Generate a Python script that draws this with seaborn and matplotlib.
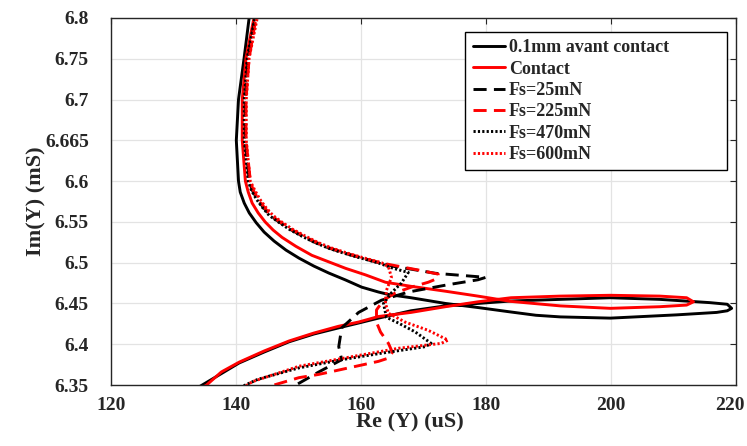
import numpy as np
import pandas as pd
import matplotlib
matplotlib.use("Agg")
import matplotlib.pyplot as plt
import matplotlib.transforms as mtransforms
import seaborn as sns

# ---------------- data ----------------
labels = ["0.1mm avant contact", "Contact", "Fs=25mN", "Fs=225mN", "Fs=470mN", "Fs=600mN"]

re_avant = [142.4, 142.1, 141.3, 140.4, 140.05, 140.4, 140.68, 141.32, 142.12, 143.23,
            144.50, 146.09, 148.0, 150.07, 152.46, 154.84, 157.55, 160.10, 162.8, 164.4,
            168.0, 173.5, 178.7, 184.0, 188.0, 191.9, 199.9, 210.5, 216.9, 218.6, 219.3,
            218.6, 215.8, 207.8, 199.9, 191.9, 184.0, 178.7, 173.5, 168.0, 162.8,
            159.62, 156.4, 152.46, 148.5, 144.50, 140.5, 137.82, 134.6, 132.4]
im_avant = [6.82, 6.80, 6.751, 6.700, 6.650, 6.600, 6.5865, 6.573, 6.561, 6.549,
            6.5375, 6.5265, 6.5154, 6.5056, 6.4958, 6.4873, 6.4787, 6.470, 6.464, 6.461,
            6.457, 6.450, 6.445, 6.4395, 6.4355, 6.4335, 6.432, 6.436, 6.439, 6.441, 6.444,
            6.449, 6.451, 6.455, 6.457, 6.455, 6.453, 6.450, 6.447, 6.441, 6.432,
            6.426, 6.420, 6.4125, 6.403, 6.3904, 6.377, 6.3647, 6.350, 6.340]

re_contact = [143.2, 142.9, 141.6, 141.0, 141.0, 141.5, 141.96, 142.59, 143.55, 144.66,
              145.94, 147.37, 149.59, 152.14, 154.84, 157.55, 160.73, 163.91, 168.0, 173.5,
              178.7, 184.0, 191.9, 199.9, 207.8, 212.1, 213.2, 212.1, 207.8, 199.9,
              191.9, 184.0, 178.7, 173.5, 168.0, 162.8, 159.62, 156.4, 152.46, 148.5,
              144.5, 140.5, 137.66, 135.3, 133.0]
im_contact = [6.82, 6.801, 6.751, 6.700, 6.650, 6.600, 6.5865, 6.573, 6.561, 6.550,
              6.540, 6.531, 6.520, 6.509, 6.501, 6.493, 6.485, 6.476, 6.471, 6.465,
              6.459, 6.4525, 6.447, 6.444, 6.446, 6.448, 6.452, 6.457, 6.459, 6.460,
              6.459, 6.457, 6.452, 6.446, 6.439, 6.434, 6.4272, 6.422, 6.4137, 6.404,
              6.3917, 6.378, 6.366, 6.350, 6.340]

re_25 = [143.3, 143.07, 141.96, 141.48, 141.48, 142.12, 142.59, 143.39, 144.34, 145.46,
         146.89, 148.64, 150.55, 152.62, 154.84, 157.23, 159.94, 162.80, 165.51, 168.05,
         171.87, 179.98, 178.71, 173.94, 167.57, 163.28, 159.62, 156.91, 156.44, 156.91,
         153.25, 149.59, 148.0]
im_25 = [6.82, 6.800, 6.751, 6.700, 6.650, 6.600, 6.589, 6.578, 6.568, 6.558,
         6.550, 6.541, 6.533, 6.525, 6.518, 6.512, 6.506, 6.500, 6.495, 6.492,
         6.487, 6.482, 6.479, 6.473, 6.464, 6.454, 6.439, 6.420, 6.397, 6.381,
         6.366, 6.350, 6.343]

re_225 = [143.4, 143.2, 142.1, 141.6, 141.6, 142.3, 142.75, 143.55, 144.5, 145.6,
          147.05, 148.8, 150.7, 152.8, 155.0, 157.4, 160.1, 163.0, 165.7, 169.16,
          172.35, 172.35, 170.76, 168.05, 165.51, 163.60, 162.48, 162.48, 163.12, 164.39,
          165.03, 164.39, 162.80, 158.03, 153.25, 150.07, 146.09, 144.5]
im_225 = [6.82, 6.800, 6.751, 6.700, 6.650, 6.600, 6.589, 6.578, 6.568, 6.558,
          6.550, 6.541, 6.533, 6.525, 6.518, 6.512, 6.506, 6.500, 6.496, 6.491,
          6.486, 6.481, 6.476, 6.470, 6.463, 6.454, 6.442, 6.427, 6.415, 6.401,
          6.390, 6.383, 6.379, 6.371, 6.363, 6.359, 6.350, 6.346]

re_470 = [143.2, 143.0, 141.8, 141.32, 141.32, 141.96, 142.45, 143.25, 144.2, 145.3,
          146.75, 148.5, 150.4, 152.5, 154.7, 157.1, 159.8, 162.65, 165.19, 167.57,
          166.46, 164.87, 163.60, 164.07, 165.98, 168.69, 171.23, 170.28, 163.28, 156.91,
          150.07, 143.5, 141.5, 140.5]
im_470 = [6.82, 6.800, 6.751, 6.700, 6.650, 6.600, 6.589, 6.578, 6.568, 6.558,
          6.550, 6.541, 6.533, 6.525, 6.518, 6.512, 6.506, 6.500, 6.493, 6.488,
          6.475, 6.463, 6.450, 6.433, 6.426, 6.415, 6.401, 6.397, 6.389, 6.381,
          6.371, 6.357, 6.350, 6.346]

re_600 = [143.6, 143.4, 142.1, 141.64, 141.64, 142.28, 143.0, 143.8, 144.75, 145.9,
          147.3, 149.05, 151.0, 153.05, 155.3, 157.7, 160.4, 163.28, 164.39, 164.87,
          164.07, 163.91, 164.39, 167.10, 170.76, 173.94, 172.82, 165.98, 158.03, 150.07,
          142.59, 141.80, 141.0]
im_600 = [6.82, 6.800, 6.751, 6.700, 6.650, 6.600, 6.589, 6.578, 6.568, 6.558,
          6.550, 6.541, 6.533, 6.525, 6.518, 6.512, 6.506, 6.500, 6.495, 6.482,
          6.466, 6.450, 6.438, 6.427, 6.417, 6.405, 6.401, 6.395, 6.384, 6.373,
          6.354, 6.350, 6.346]

x_ticks = [120, 140, 160, 180, 200, 220]
y_ticks = [6.35, 6.4, 6.45, 6.5, 6.55, 6.6, 6.65, 6.7, 6.75, 6.8]
y_tick_labels = ["6.35", "6.4", "6.45", "6.5", "6.55", "6.6", "6.665", "6.7", "6.75", "6.8"]

# ---------------- styling ----------------
sns.set_theme(style="white")
plt.rcParams["font.family"] = ["Liberation Serif", "DejaVu Serif"]
plt.rcParams["font.weight"] = "bold"

fig = plt.figure(figsize=(7.47, 4.46), dpi=100)
ax = fig.add_axes([111 / 747, 1 - 385 / 446, 625 / 747, 367 / 446])

series = [
    (re_avant, im_avant, "black", "-"),
    (re_contact, im_contact, "red", "-"),
    (re_25, im_25, "black", (0, (4.5, 2.5))),
    (re_225, im_225, "red", (0, (4.5, 2.5))),
    (re_470, im_470, "black", (0, (0.75, 0.75))),
    (re_600, im_600, "red", (0, (0.75, 0.75))),
]

for (re, im, col, ls), lab in zip(series, labels):
    df = pd.DataFrame({"re": re, "im": im})
    sns.lineplot(data=df, x="re", y="im", sort=False, estimator=None, ax=ax,
                 color=col, linestyle=ls, linewidth=2.1, label=lab)

ax.set_xlim(120, 220)
ax.set_ylim(6.35, 6.8)
ax.set_xticks(x_ticks)
ax.set_xticklabels([str(v) for v in x_ticks])
ax.set_yticks(y_ticks)
ax.set_yticklabels(y_tick_labels)

ax.grid(True, color="#e3e3e3", linewidth=0.9)
ax.set_axisbelow(True)
for s in ax.spines.values():
    s.set_color("#262626")
    s.set_linewidth(1.0)

ax.tick_params(axis="both", which="both", direction="in", length=4, width=0.8,
               color="#262626", top=True, right=True, labelsize=14)
ax.tick_params(axis="x", pad=9)
ax.tick_params(axis="y", pad=16)
for t in ax.get_xticklabels() + ax.get_yticklabels():
    t.set_fontweight("bold")
    t.set_color("#262626")
# keep the last x tick label inside the canvas
last = ax.get_xticklabels()[-1]
last.set_transform(last.get_transform() +
                   mtransforms.ScaledTranslation(-6 / 100, 0, fig.dpi_scale_trans))

ax.set_xlabel("Re (Y) (uS)", fontsize=16, fontweight="bold", color="#262626")
ax.set_ylabel("Im(Y) (mS)", fontsize=16, fontweight="bold", color="#262626")
ax.xaxis.set_label_coords(0.478, -0.075)
ax.yaxis.set_label_coords(-0.103, 0.5)

leg = ax.legend(loc="upper left", bbox_to_anchor=(0.567, 0.589, 0.4185, 0.373),
                mode="expand", borderaxespad=0, frameon=True, fancybox=False,
                framealpha=1, edgecolor="black", fontsize=13, handlelength=1.8,
                handletextpad=0.2, labelspacing=0.24, borderpad=0.4)
leg.get_frame().set_linewidth(1.0)
for t in leg.get_texts():
    t.set_fontweight("bold")

fig.savefig("out.png", dpi=100)
